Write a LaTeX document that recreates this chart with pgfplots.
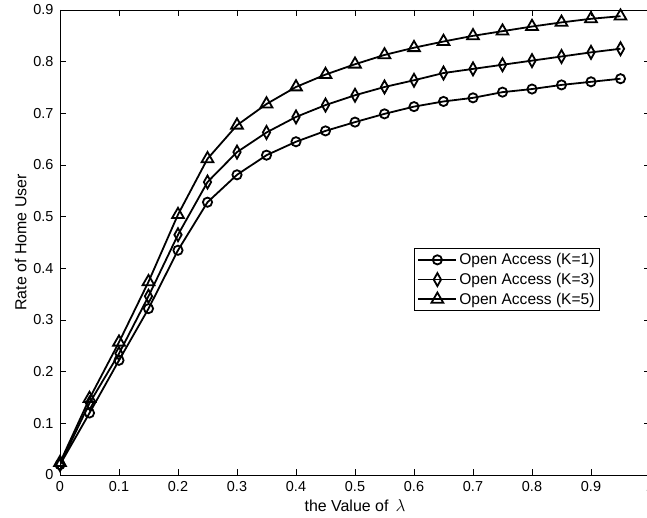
\documentclass[border=0pt]{standalone}
\usepackage{fontspec}
\setmainfont{Liberation Sans}
\usepackage{pgfplots}
\pgfplotsset{compat=1.18}
\begin{document}
\begin{tikzpicture}
\begin{axis}[
  name=ax,
  scale only axis,
  width=590bp, height=465bp,
  xmin=0, xmax=1, ymin=0, ymax=0.9,
  xtick={0,0.1,...,1.01},
  ytick={0,0.1,...,0.91},
  tick align=inside,
  major tick length=6bp,
  tick style={black, line width=0.6bp},
  axis line style={line width=0.8bp},
  /pgf/number format/assume math mode=true,
  /pgf/number format/fixed,
  /pgf/number format/precision=1,
  ticklabel style={font=\fontsize{14.5}{16}\selectfont},
  xticklabel style={yshift=-3bp},
  yticklabel style={xshift=-3bp},
  label style={font=\fontsize{16}{18}\selectfont},
  xlabel={the Value of \,$\lambda$},
  ylabel={Rate of Home User},
  xlabel style={yshift=-1bp},
  ylabel style={yshift=0bp},
  legend style={at={(0.915,0.488)}, anchor=north east,
    font=\fontsize{15.6}{19}\selectfont, draw=black, line width=0.8bp,
    row sep=3bp, inner xsep=3bp, inner ysep=3bp},
  legend cell align=left,
  legend image code/.code={\draw[mark repeat=2,mark phase=2,line width=1.8bp,#1] plot coordinates {(0cm,0cm) (0.67cm,0cm) (1.34cm,0cm)};},
  every axis plot/.append style={black, line width=1.8bp},
]
\addplot[mark=o, mark size=4.6bp] coordinates {
(0,0.020) (0.05,0.120) (0.1,0.222) (0.15,0.322) (0.2,0.435) (0.25,0.528)
(0.3,0.581) (0.35,0.619) (0.4,0.645) (0.45,0.666) (0.5,0.683) (0.55,0.699)
(0.6,0.713) (0.65,0.723) (0.7,0.730) (0.75,0.741) (0.8,0.747) (0.85,0.755)
(0.9,0.761) (0.95,0.767)};
\addlegendentry{Open Access (K=1)}
\addplot[mark=diamond, mark size=6.5bp, mark options={xscale=0.75}] coordinates {
(0,0.020) (0.05,0.139) (0.1,0.235) (0.15,0.346) (0.2,0.465) (0.25,0.567)
(0.3,0.625) (0.35,0.663) (0.4,0.693) (0.45,0.716) (0.5,0.735) (0.55,0.751)
(0.6,0.764) (0.65,0.778) (0.7,0.786) (0.75,0.794) (0.8,0.802) (0.85,0.810)
(0.9,0.818) (0.95,0.825)};
\addlegendentry{Open Access (K=3)}
\addplot[mark=triangle, mark size=6.8bp] coordinates {
(0,0.024) (0.05,0.148) (0.1,0.257) (0.15,0.374) (0.2,0.504) (0.25,0.612)
(0.3,0.677) (0.35,0.718) (0.4,0.751) (0.45,0.775) (0.5,0.795) (0.55,0.813)
(0.6,0.827) (0.65,0.839) (0.7,0.850) (0.75,0.859) (0.8,0.868) (0.85,0.876)
(0.9,0.883) (0.95,0.888)};
\addlegendentry{Open Access (K=5)}
\end{axis}
\pgfresetboundingbox
\path[use as bounding box] ([shift={(-60bp,-43bp)}]ax.south west) rectangle ([shift={(587bp,475bp)}]ax.south west);
\end{tikzpicture}
\end{document}
